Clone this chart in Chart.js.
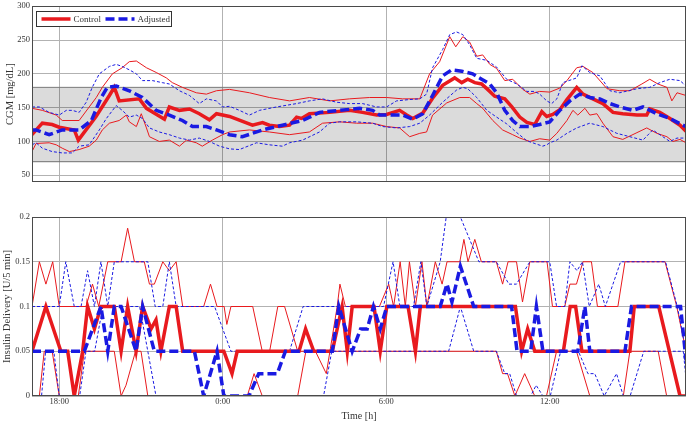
<!DOCTYPE html>
<html>
<head>
<meta charset="utf-8">
<script src="https://cdn.jsdelivr.net/npm/chart.js@4.4.1/dist/chart.umd.min.js"></script>
<style>
  html, body { margin: 0; padding: 0; background: #fff; }
  #wrap { position: relative; width: 688px; height: 422px; }
  canvas { position: absolute; left: 0; }
  #cgm { top: 0; }
  #ins { top: 195px; }
</style>
</head>
<body>
<div id="wrap">
  <canvas id="cgm" width="688" height="195"></canvas>
  <canvas id="ins" width="688" height="227"></canvas>
</div>
<script>
// time axis in hours: 17 = 17:00, 24 = 0:00 next day, 41 = 17:00
const CLOCK_MIN = 17, CLOCK_MAX = 41;
const hourTicks = [18, 24, 30, 36];
const cgmTicks = [50, 100, 150, 200, 250, 300];
const insulinTicks = [0, 0.05, 0.1, 0.15, 0.2];
const targetRange = [70, 180];

// CGM [mg/dL] — [hour, value]
const cgmControl = [[17.0,110],[17.38,127],[17.74,125],[18.0,121],[18.55,117],[18.7,102],[19.35,137],[19.84,168],[20.02,180],[20.2,160],[20.94,163],[21.2,149],[21.86,133],[22.04,151],[22.41,146],[22.78,148],[23.14,141],[23.51,132],[23.77,141],[24.25,137],[25.09,124],[25.46,128],[25.71,124],[26.08,122],[26.45,124],[26.71,136],[26.89,134],[27.18,141],[27.92,143],[28.65,146],[29.13,143],[29.65,139],[30.01,140],[30.49,146],[30.75,139],[30.97,134],[31.34,142],[31.7,164],[32.07,183],[32.51,194],[32.77,187],[32.99,192],[33.25,187],[33.5,185],[33.72,177],[33.98,167],[34.35,163],[34.61,151],[34.9,136],[35.16,128],[35.45,125],[35.71,144],[35.89,137],[36.11,140],[36.37,147],[36.63,162],[36.99,180],[37.22,170],[37.58,163],[37.95,156],[38.32,143],[38.68,141],[39.2,139],[39.56,139],[39.67,148],[40.04,143],[40.41,134],[40.78,124],[41.0,115]];
const cgmAdjusted = [[17.0,117],[17.15,117],[17.63,110],[18.11,117],[18.73,117],[19.18,131],[19.54,165],[19.76,180],[20.09,182],[20.57,175],[21.05,165],[21.56,146],[22.04,139],[22.52,131],[22.89,122],[23.4,122],[23.77,117],[24.25,110],[24.72,107],[25.46,117],[26.19,124],[26.93,131],[27.55,143],[28.29,146],[29.02,149],[29.5,146],[29.76,139],[30.23,139],[30.6,139],[30.97,133],[31.34,141],[31.7,168],[32.07,197],[32.4,206],[32.77,204],[33.17,200],[33.5,192],[33.8,185],[34.05,172],[34.35,146],[34.64,131],[34.9,122],[35.27,122],[35.63,125],[36.0,129],[36.37,146],[36.74,160],[37.1,170],[37.47,165],[37.84,163],[38.21,156],[38.57,151],[39.05,146],[39.42,151],[39.93,141],[40.41,134],[40.89,124],[41.0,122]];
const cgmControlHi = [[17.0,149],[17.38,146],[17.89,139],[18.11,131],[18.73,131],[19.1,151],[19.36,165],[19.58,180],[19.95,200],[20.31,209],[20.57,218],[20.83,219],[21.2,209],[21.56,202],[21.93,194],[22.15,187],[22.52,180],[23.03,172],[23.4,170],[23.77,175],[24.25,177],[24.98,172],[25.71,165],[26.45,160],[27.18,165],[27.92,160],[28.65,163],[29.39,165],[30.01,165],[30.6,163],[31.23,163],[31.59,200],[31.96,218],[32.33,255],[32.55,240],[32.81,255],[33.06,247],[33.32,226],[33.54,228],[33.8,214],[34.05,208],[34.35,190],[34.64,192],[35.01,177],[35.27,170],[35.63,174],[36.0,173],[36.37,179],[36.63,190],[36.99,209],[37.22,211],[37.58,202],[38.1,178],[38.57,175],[38.94,175],[39.38,185],[39.67,192],[39.97,185],[40.3,180],[40.48,160],[40.67,172],[41.0,168]];
const cgmControlLo = [[17.0,85],[17.15,97],[17.63,98],[17.89,95],[18.11,90],[18.37,85],[18.73,88],[19.1,93],[19.36,102],[19.58,117],[19.84,127],[20.2,131],[20.46,139],[20.57,129],[20.83,122],[21.01,141],[21.2,120],[21.31,107],[21.67,100],[22.04,102],[22.41,93],[22.67,102],[23.03,98],[23.25,93],[23.62,102],[23.99,110],[24.25,114],[24.98,117],[25.71,114],[26.45,110],[27.18,114],[27.66,127],[28.29,129],[28.91,127],[29.5,127],[30.01,122],[30.49,120],[30.86,107],[31.23,112],[31.48,114],[31.7,139],[32.22,157],[32.7,165],[33.06,165],[33.32,156],[33.54,149],[33.91,131],[34.27,117],[34.64,110],[34.9,105],[35.27,100],[35.63,104],[36.0,102],[36.26,112],[36.63,131],[36.85,146],[37.03,139],[37.29,149],[37.47,139],[37.73,141],[37.95,127],[38.32,107],[38.68,103],[39.2,113],[39.56,120],[39.93,112],[40.3,107],[40.52,100],[40.78,103],[41.0,98]];
const cgmAdjustedHi = [[17.0,151],[17.27,151],[17.63,143],[18.0,139],[18.26,146],[18.48,146],[18.73,143],[18.99,158],[19.21,180],[19.47,200],[19.84,211],[20.09,214],[20.31,211],[20.57,206],[20.83,200],[21.05,190],[21.42,190],[21.78,187],[22.04,185],[22.41,175],[22.78,168],[23.14,156],[23.4,163],[23.77,160],[23.99,151],[24.25,152],[24.61,146],[24.98,139],[25.35,146],[25.97,151],[26.71,156],[27.18,160],[27.66,163],[28.18,158],[28.65,156],[29.13,156],[29.65,151],[30.01,151],[30.38,160],[30.86,162],[31.23,163],[31.48,170],[31.7,209],[32.07,236],[32.33,258],[32.58,262],[32.81,258],[33.06,243],[33.32,223],[33.69,220],[34.05,210],[34.42,192],[34.79,185],[35.16,174],[35.45,174],[35.63,170],[35.89,160],[36.07,156],[36.26,163],[36.48,187],[36.99,194],[37.18,212],[37.47,202],[37.84,197],[38.21,175],[38.57,172],[39.2,178],[39.67,180],[40.04,187],[40.41,192],[40.78,190],[41.0,182]];
const cgmAdjustedLo = [[17.0,95],[17.15,98],[17.38,90],[17.74,85],[18.11,83],[18.48,83],[18.73,93],[19.1,95],[19.47,117],[19.73,134],[20.09,153],[20.31,146],[20.57,136],[20.83,139],[21.05,134],[21.31,120],[21.67,114],[22.04,110],[22.41,105],[22.78,102],[23.14,105],[23.51,100],[23.88,93],[24.25,89],[24.61,88],[25.24,98],[25.71,95],[26.19,93],[26.45,98],[26.93,102],[27.55,114],[27.92,127],[28.29,129],[28.91,129],[29.5,127],[29.87,122],[30.38,120],[30.86,122],[31.23,127],[31.59,139],[32.07,158],[32.58,176],[32.81,180],[32.99,178],[33.32,165],[33.69,146],[34.05,136],[34.42,126],[34.79,113],[35.16,101],[35.52,96],[35.74,93],[35.89,95],[36.0,98],[36.26,102],[36.63,112],[36.99,120],[37.47,127],[37.95,122],[38.46,112],[38.94,107],[39.42,102],[39.78,117],[40.15,107],[40.41,100],[40.67,105],[41.0,105]];

// insulin delivery [U/5 min] — [hour, value]
const insControl = [[17.0,.05],[17.51,.1],[18.06,.05],[18.31,.05],[18.55,0],[18.86,.05],[19.04,.1],[19.29,.075],[19.53,.1],[20.02,.1],[20.27,.05],[20.51,.1],[20.82,.05],[21.06,.1],[21.37,.075],[21.55,.085],[21.73,.05],[22.04,.1],[22.29,.1],[22.53,.05],[24.04,.05],[24.34,.025],[24.53,.05],[26.8,.05],[27.04,.075],[27.34,.05],[28.02,.05],[28.38,.1],[28.57,.05],[28.75,.1],[29.55,.1],[29.78,.05],[30.02,.1],[30.8,.1],[31.07,.05],[31.25,.1],[34.74,.1],[34.97,.05],[35.19,.075],[35.45,.05],[36.5,.05],[36.75,.1],[36.95,.1],[37.18,.05],[38.94,.05],[39.1,.1],[40.0,.1],[40.78,0],[41.0,0]];
const insAdjusted = [[17.0,.05],[18.92,.05],[19.53,.1],[19.78,.05],[20.02,.1],[20.27,.1],[20.82,.05],[21.06,.1],[21.49,.05],[22.96,.05],[23.3,0],[23.79,.05],[24.04,0],[24.96,0],[25.32,.025],[26.0,.025],[26.3,.05],[28.02,.05],[28.26,.1],[28.75,.05],[29.06,.075],[29.3,.075],[29.53,.1],[29.78,.075],[30.02,.1],[31.98,.1],[32.23,.125],[32.41,.105],[32.72,.145],[33.21,.1],[34.6,.1],[34.8,.05],[35.3,.05],[35.51,.1],[35.75,.05],[37.03,.05],[37.29,.1],[37.47,.05],[38.76,.05],[39.0,.1],[40.8,.1],[41.0,.04]];
const insControlHi = [[17.0,.1],[17.27,.15],[17.51,.125],[17.76,.15],[18.0,.1],[18.98,.1],[19.22,.125],[19.45,.1],[19.78,.15],[20.27,.15],[20.51,.1875],[20.76,.15],[21.12,.15],[21.31,.125],[21.49,.125],[21.8,.15],[22.04,.14],[22.29,.15],[22.53,.1],[23.3,.1],[23.55,.125],[23.79,.1],[24.05,.1],[24.15,.08],[24.3,.1],[25.1,.1],[25.45,.05],[25.72,.05],[26.02,.1],[26.27,.1],[26.75,.05],[27.4,.05],[27.8,.025],[28.2,.1],[28.3,.125],[28.5,.1],[29.75,.1],[30.09,.125],[30.27,.1],[30.51,.15],[30.7,.1],[30.85,.15],[31.07,.1],[31.31,.15],[31.49,.1],[31.8,.15],[32.05,.125],[32.23,.15],[32.7,.15],[32.85,.175],[33.0,.15],[33.25,.175],[33.49,.15],[34.04,.15],[34.27,.125],[34.47,.15],[34.78,.15],[35.0,.105],[35.27,.15],[35.9,.15],[36.1,.1],[36.55,.1],[36.74,.125],[36.98,.125],[37.22,.15],[37.53,.15],[37.75,.1],[38.5,.1],[38.76,.15],[40.23,.15],[40.66,.1],[41.0,.05]];
const insControlLo = [[17.0,0],[17.27,0],[17.45,.05],[17.74,.05],[18.0,0],[18.7,0],[18.92,.05],[20.02,.05],[20.27,0],[20.45,.012],[20.8,.05],[21.0,.05],[21.25,0],[24.9,0],[25.15,.025],[25.45,0],[26.75,0],[27.05,.05],[33.8,.05],[34.04,.05],[34.27,.025],[34.45,.025],[34.72,0],[35.08,.025],[35.45,0],[35.88,0],[36.25,.05],[36.98,.05],[37.47,0],[38.7,0],[38.94,.05],[39.98,.05],[40.29,0],[41.0,0]];
const insAdjustedHi = [[17.0,.1],[18.0,.1],[18.24,.15],[18.55,.1],[18.8,.1],[19.04,.14],[19.29,.1],[19.53,.15],[19.78,.1],[20.02,.15],[21.25,.15],[21.52,.1],[21.8,.1],[22.04,.15],[22.29,.1],[23.7,.1],[24.3,.05],[26.45,.05],[26.95,.1],[29.9,.1],[30.25,.15],[30.5,.1],[31.0,.1],[31.27,.15],[31.49,.1],[31.98,.15],[32.2,.2],[32.72,.2],[33.4,.15],[34.04,.15],[34.5,.125],[34.78,.125],[35.27,.15],[36.0,.15],[36.25,.1],[36.55,.1],[36.74,.15],[37.0,.14],[37.2,.15],[37.45,.1],[37.8,.125],[38.04,.1],[38.6,.15],[40.25,.15],[40.68,.1],[41.0,.05]];
const insAdjustedLo = [[17.0,0],[17.35,0],[17.5,.05],[17.8,.05],[18.0,0],[18.75,0],[18.98,.05],[19.3,.05],[19.6,.1],[20.95,.1],[21.55,0],[27.7,0],[28.0,.05],[32.29,.05],[32.72,.1],[33.21,.05],[34.04,.05],[34.35,.025],[34.53,.025],[34.78,0],[35.3,0],[35.5,.012],[35.75,0],[36.02,0],[36.4,.05],[37.05,.05],[37.4,.025],[37.65,.025],[38.0,0],[38.45,.025],[38.7,0],[38.95,0],[39.45,.05],[40.9,.05],[41.0,.02]];

const RED = 'rgb(232,26,30)';
const BLUE = 'rgb(26,26,226)';
const GRID = '#b2b2b2';
const TEXT = '#333';
const FONT = '"Liberation Serif", "DejaVu Serif", serif';

function series(label, pairs, color, width, dash, order) {
  return {
    label, order,
    data: pairs.map(([x, y]) => ({ x, y })),
    borderColor: color, borderWidth: width, borderDash: dash,
    pointRadius: 0, tension: 0, fill: false
  };
}

// box round the plot area
const frame = {
  id: 'frame',
  afterDatasetsDraw(chart) {
    const { ctx, chartArea: a } = chart;
    ctx.save();
    ctx.strokeStyle = '#4a4a4a';
    ctx.lineWidth = 1;
    ctx.strokeRect(Math.round(a.left) + 0.5, Math.round(a.top) + 0.5, Math.round(a.width) - 1, Math.round(a.height) - 1);
    ctx.restore();
  }
};

// boxed legend in the upper left corner
const legendBox = {
  id: 'legendBox',
  afterDraw(chart) {
    const { ctx, chartArea: a } = chart;
    const items = chart.data.datasets.filter(d => d.legend);
    const x0 = Math.round(a.left) + 4.5, y0 = Math.round(a.top) + 5.5;
    ctx.save();
    ctx.fillStyle = '#fff';
    ctx.fillRect(x0, y0, 135, 15);
    ctx.strokeStyle = '#333';
    ctx.lineWidth = 1;
    ctx.strokeRect(x0, y0, 135, 15);
    ctx.font = '9px ' + FONT;
    ctx.textBaseline = 'middle';
    let x = x0 + 5;
    items.forEach(d => {
      ctx.strokeStyle = d.borderColor;
      ctx.lineWidth = d.borderWidth;
      ctx.setLineDash(d.borderDash || []);
      ctx.beginPath();
      ctx.moveTo(x, y0 + 7.5);
      ctx.lineTo(x + 29, y0 + 7.5);
      ctx.stroke();
      ctx.setLineDash([]);
      ctx.fillStyle = TEXT;
      ctx.fillText(d.label, x + 32, y0 + 8);
      x += 64;
    });
    ctx.restore();
  }
};

function xScale(showLabels) {
  return {
    type: 'linear', min: CLOCK_MIN, max: CLOCK_MAX,
    afterBuildTicks: s => { s.ticks = hourTicks.map(v => ({ value: v })); },
    afterFit: s => { s.height = showLabels ? 26 : 0; },
    grid: { color: GRID, drawTicks: false },
    border: { display: false },
    ticks: {
      display: showLabels, padding: 2, color: TEXT, maxRotation: 0, autoSkip: false,
      font: { family: FONT, size: 8.5, lineHeight: 1 },
      callback: v => (v % 24) + ':00'
    },
    title: {
      display: showLabels, text: 'Time [h]', color: TEXT,
      font: { family: FONT, size: 10 }, padding: { top: 0, bottom: 0 }
    }
  };
}

function yScale(min, max, ticks, title, titlePad) {
  return {
    min, max,
    afterBuildTicks: s => { s.ticks = ticks.map(v => ({ value: v })); },
    afterFit: s => { s.width = 32; },
    grid: { color: GRID, drawTicks: false },
    border: { display: false },
    ticks: {
      padding: 2, color: TEXT,
      font: { family: FONT, size: 8.5, lineHeight: 1 },
      callback: v => String(v)
    },
    title: {
      display: true, text: title, color: TEXT,
      font: { family: FONT, size: 10.5 }, padding: { top: titlePad, bottom: 0 }
    }
  };
}

const baseOptions = {
  responsive: false,
  animation: false,
  events: [],
  plugins: { legend: { display: false }, tooltip: { enabled: false } }
};

const cgmMain = [
  Object.assign(series('Adjusted', cgmAdjusted, BLUE, 3.5, [9, 4], 0), { legend: true }),
  Object.assign(series('Control', cgmControl, RED, 3.5, [], 1), { legend: true }),
  series('Adjusted upper', cgmAdjustedHi, BLUE, 1, [3, 2], 2),
  series('Adjusted lower', cgmAdjustedLo, BLUE, 1, [3, 2], 2),
  series('Control upper', cgmControlHi, RED, 1, [], 3),
  series('Control lower', cgmControlLo, RED, 1, [], 3)
];
// keep legend order Control, Adjusted
const cgmDatasets = [cgmMain[1], cgmMain[0], ...cgmMain.slice(2),
  {
    label: 'target high', order: 10,
    data: [{ x: CLOCK_MIN, y: targetRange[1] }, { x: CLOCK_MAX, y: targetRange[1] }],
    borderColor: '#7a7a7a', borderWidth: 1, pointRadius: 0,
    fill: { target: { value: targetRange[0] } }, backgroundColor: 'rgba(0,0,0,0.14)'
  },
  {
    label: 'target low', order: 10,
    data: [{ x: CLOCK_MIN, y: targetRange[0] }, { x: CLOCK_MAX, y: targetRange[0] }],
    borderColor: '#7a7a7a', borderWidth: 1, pointRadius: 0, fill: false
  }
];

new Chart(document.getElementById('cgm'), {
  type: 'line',
  data: { datasets: cgmDatasets },
  options: Object.assign({}, baseOptions, {
    layout: { padding: { left: 0, right: 2, top: 4, bottom: 13 } },
    scales: {
      x: xScale(false),
      y: yScale(40, 300, cgmTicks, 'CGM [mg/dL]', 3.7)
    }
  }),
  plugins: [frame, legendBox]
});

new Chart(document.getElementById('ins'), {
  type: 'line',
  data: {
    datasets: [
      series('Adjusted', insAdjusted, BLUE, 3.5, [9, 4], 0),
      series('Control', insControl, RED, 3.5, [], 1),
      series('Adjusted upper', insAdjustedHi, BLUE, 1, [3, 2], 2),
      series('Adjusted lower', insAdjustedLo, BLUE, 1, [3, 2], 2),
      series('Control upper', insControlHi, RED, 1, [], 3),
      series('Control lower', insControlLo, RED, 1, [], 3)
    ]
  },
  options: Object.assign({}, baseOptions, {
    layout: { padding: { left: 0, right: 2, top: 22, bottom: 0 } },
    scales: {
      x: xScale(true),
      y: yScale(0, 0.2, insulinTicks, 'Insulin Delivery [U/5 min]', 1.2)
    }
  }),
  plugins: [frame]
});
</script>
</body>
</html>
